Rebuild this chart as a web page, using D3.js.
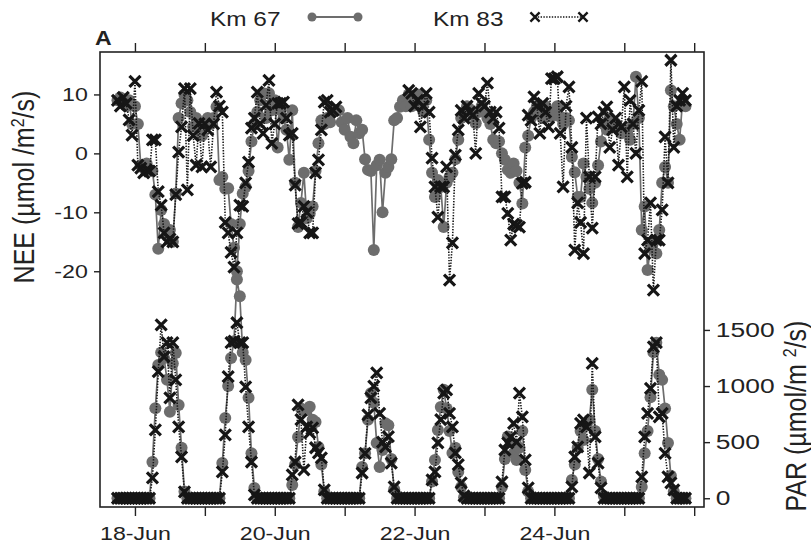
<!DOCTYPE html>
<html>
<head>
<meta charset="utf-8">
<script src="https://cdn.jsdelivr.net/npm/d3@7"></script>
<style>
  body { margin: 0; background: #fff; }
  text { font-family: "Liberation Sans", Arial, Helvetica, sans-serif; fill: #222; }
</style>
</head>
<body>
<svg id="chart" width="811" height="549"></svg>
<script>
/************** Data (hourly, starting 17 Jun 18:00) **************/
const startTime = "2004-06-17T18:00:00Z";

// NEE (umol/m2/s) at Km 67
const nee67 = [
  9, 9.5, 8.5, 8, 9, 5,                                                                           // 17 Jun 18-23h
  8, 5, -2, -2.5, -1.7, -3, -3, -7, -16.2, -9.6, -12, -14, -13, -15, -6.8, 6, 8.5, 10, 9, 7, 4.5, 6, 5, 3,      // 18 Jun
  5, 6, 5, 6, 7.9, -4.5, -4, -6, -5.9, -12, -16, -20, -12, -6.8, -5.7, -3, 2, 5, 7, 9, 10.2, 6, 10.2, 7.3,      // 19 Jun
  9, 1, 7.3, 6, 4, -1.1, 7.3, -5, -12.5, -8.4, -3.3, -11, -10.2, -9, -3, 1.7, 5.6, 5, 6, 5.3, 7, 7.3, 7.3, 5.3, // 20 Jun
  4, 6, 2.8, 1.7, 5.6, 3.4, 4, -1, -2.8, -3, -16.4, -2, -1.1, -10, -3.3, -2.3, -1, 5.6, 6, 7.9, 9, 8, 10, 8,    // 21 Jun
  9, 10, 8, 7, 9, 2.3, -3.3, -7.4, -4.5, -5.7, -12.5, -5, -4, -3.3, -1, 2.3, 6, 7, 8, 7.5, 6.5, 5.1, 7, 8,      // 22 Jun
  7, 6, 5, 2.3, 1.7, 2, 0, -1.1, -2.8, -3.3, -1.7, -3, -5, -8.5, 1, 3, 6, 7, 8, 7, 6, 8, 7, 6.2,               // 23 Jun
  7, 8, 6.2, 5, 6, 5.6, -0.6, -3.2, -7.4, -7.4, -1.7, -4, -6, -8.4, -5, -2, 2, 5, 4, 6, 5, 5.1, 4, 3.4,         // 24 Jun
  4, 3.4, 2.3, 5, 13, 6, -13, -9, -19.8, -16, -15, -17, -13, -5, -2.3, -5, 10.7, 8, 5, 2.3, 9, 8               // 25 Jun 0-21h
];

// NEE at Km 83 (null = missing)
const nee83 = [
  9, 8, 9.5, 8.5, 5.7, 3.1,
  12.2, -2, -2.5, -3.3, -2.8, -3, 2.3, 2.3, -6.5, -8.8, -13.5, -15, -14.5, -15, -7, 0.2, 4.5, 11, -6.2, 11, 3, -2, 5.1, -2.3,
  5, 4, -2.3, 5, 10.4, 8, 7, -11.7, -13.5, -16.8, -19.3, -13.5, -8.8, -9, -5, -1.5, 4.3, 6, 10.4, 5, 3.4, 8.2, 12.4, 1.7,
  5, 8.5, 8.5, 8.7, 6, 3.1, 3.4, -5.4, -11.9, -11.7, -9, -10, -13.5, -13.5, -3.3, -1.1, 4, 8.7, 9, 7, 7.3, 7.9, null, null,
  null, null, null, null, null, null, null, null, null, null, null, null, null, null, null, null, null, null, null, null, null, null, 10.7, 10.2,
  8, 9, 4.5, 8, 10.2, 7, -0.8, -5.7, -10.8, -5.7, -5.7, -2.3, -21.5, -15.2, -0.3, 4, 7.3, 6, 8, 7, 6.5, 0, 10.2, 8.5,
  8, 11.9, 7, 6, 7, 4.3, -7.4, -7.4, -10.2, -14.7, -12, -12.2, -12.5, -5.1, -4.9, 6.5, 5.6, 9.6, 8, 3.4, 8.5, 7, 4.5, 12.7,
  12.7, 13, 3.4, -5.7, 8, 11.3, 1, -16.4, -8.4, -11.7, -17, 6, -4, -12.7, -4, 6.2, 5, 7, 7.9, 1, 4, 6, -2, 4.5,
  11.3, -4, 9, 5, 0, 7.3, 12.2, -17, -14.7, -8.4, -23.2, -14.7, -14.7, -9.6, 2.8, -5, 15.8, 1, 8, 9, 10.2, 9
];

// PAR (umol/m2/s) at Km 67
const par67 = [
  0, 0, 0, 0, 0, 0,
  0, 0, 0, 0, 0, 0, 323, 802, 1188, 1300, 1250, 1055, 770, 1200, 1295, 832, 450, 60, 0, 0, 0, 0, 0, 0,
  0, 0, 0, 0, 0, 0, 314, 716, 1000, 1250, 1400, 1950, 1800, 1300, 1233, 895, 400, 92, 0, 0, 0, 0, 0, 0,
  0, 0, 0, 0, 0, 0, 118, 300, 546, 800, 780, 787, 815, 700, 680, 457, 300, 60, 0, 0, 0, 0, 0, 0,
  0, 0, 0, 0, 0, 0, 279, 400, 700, 936, 850, 493, 279, 430, 668, 650, 350, 80, 0, 0, 0, 0, 0, 0,
  0, 0, 0, 0, 0, 0, 150, 341, 609, 814, 966, 800, 600, 404, 450, 234, 100, 10, 0, 0, 0, 0, 0, 0,
  0, 0, 0, 0, 0, 0, 100, 350, 550, 500, 400, 341, 450, 600, 252, 60, 0, 0, 0, 0, 0, 0, 0, 0,
  0, 0, 0, 0, 0, 0, 163, 300, 450, 600, 520, 650, 700, 966, 600, 350, 150, 20, 0, 0, 0, 0, 0, 0,
  0, 0, 0, 0, 0, 0, 100, 400, 600, 900, 1300, 1386, 1100, 1055, 800, 493, 200, 60, 0, 0, 0, 0
];

// PAR at Km 83
const par83 = [
  0, 0, 0, 0, 0, 0,
  0, 0, 0, 0, 0, 0, 181, 609, 1128, 1546, 1261, 1386, 895, 1386, 1055, 636, 368, 56, 0, 0, 0, 0, 0, 0,
  0, 0, 0, 0, 0, 0, 234, 564, 1083, 1386, 1400, 1564, 1386, 1386, 993, 636, 323, 30, 0, 0, 0, 0, 0, 0,
  0, 0, 0, 0, 0, 0, 208, 323, 832, 700, 252, 636, 582, 627, 450, 404, 360, 74, 0, 0, 0, 0, 0, 0,
  0, 0, 0, 0, 0, 0, 225, 400, 742, 895, 1000, 1117, 757, 500, 457, 550, 314, 101, 0, 0, 0, 0, 0, 0,
  0, 0, 0, 0, 0, 0, 163, 234, 493, 700, 936, 966, 757, 636, 404, 300, 136, 20, 0, 0, 0, 0, 0, 0,
  0, 0, 0, 0, 0, 0, 145, 430, 493, 545, 668, 500, 936, 725, 341, 92, 0, 0, 0, 0, 0, 0, 0, 0,
  0, 0, 0, 0, 0, 0, 101, 368, 457, 668, 698, 636, 225, 1203, 546, 314, 92, 0, 0, 0, 0, 0, 0, 0,
  0, 0, 0, 0, 0, 0, 190, 546, 757, 980, 1350, 1386, 725, 757, 400, 190, 136, 74, 0, 0, 0, 0
];

const neeTicks = [10, 0, -10, -20];
const parTicks = [0, 500, 1000, 1500];
const xTickLabels = ["18-Jun", "20-Jun", "22-Jun", "24-Jun"];
const seriesNames = ["Km 67", "Km 83"];

/************** Layout **************/
const plot = { left: 100, right: 704, top: 52, bottom: 507 };
const grey = "#6d6d6d", dark = "#161616";
const stretch = 1.22;   // the reference type is set wide

const svg = d3.select("#chart");

const t0 = new Date(startTime);
const timeOf = i => d3.utcHour.offset(t0, i);

const x = d3.scaleUtc()
  .domain([new Date("2004-06-17T12:00:00Z"), new Date("2004-06-26T03:22:00Z")])
  .range([plot.left, plot.right]);
const yNee = d3.scaleLinear().domain([-60, 17.2]).range([plot.bottom, plot.top]);
const yPar = d3.scaleLinear().domain([-78, 3977]).range([plot.bottom, plot.top]);

const toPts = arr => arr.map((v, i) => ({ t: timeOf(i), v }));

/************** Axes **************/
const dayTicks = d3.utcDay.range(new Date("2004-06-18T00:00:00Z"), new Date("2004-06-26T12:00:00Z"));
const fmtDay = d => {
  const s = `${d.getUTCDate()}-Jun`;
  return xTickLabels.includes(s) ? s : "";
};
const plain = d => String(d);   // hyphen minus, no thousands comma

const styleAxis = (g) => {
  g.select(".domain").remove();
  g.selectAll(".tick line").attr("stroke", "#222").attr("stroke-width", 1.4);
  g.selectAll(".tick text").attr("fill", "#222");
};

svg.append("g")
  .attr("transform", `translate(0,${plot.bottom})`)
  .call(d3.axisBottom(x).tickValues(dayTicks).tickFormat(fmtDay).tickSize(9).tickPadding(11))
  .call(styleAxis)
  .call(g => g.selectAll(".tick text")
    .style("font-size", "19px")
    .attr("transform", `scale(${stretch},1)`));

svg.append("g")
  .attr("transform", `translate(0,${plot.top})`)
  .call(d3.axisTop(x).tickValues(dayTicks).tickFormat("").tickSize(9))
  .call(styleAxis);

svg.append("g")
  .attr("transform", `translate(${plot.left},0)`)
  .call(d3.axisLeft(yNee).tickValues(neeTicks).tickFormat(plain).tickSize(6).tickPadding(4))
  .call(styleAxis)
  .call(g => g.selectAll(".tick text")
    .style("font-size", "19px")
    .attr("transform", `scale(${stretch},1)`));

svg.append("g")
  .attr("transform", `translate(${plot.right},0)`)
  .call(d3.axisRight(yPar).tickValues(parTicks).tickFormat(plain).tickSize(6).tickPadding(3))
  .call(styleAxis)
  .call(g => g.selectAll(".tick text")
    .style("font-size", "20px")
    .attr("transform", "scale(1.32,1)"));

// frame
svg.append("rect")
  .attr("x", plot.left).attr("y", plot.top)
  .attr("width", plot.right - plot.left).attr("height", plot.bottom - plot.top)
  .attr("fill", "none").attr("stroke", "#222").attr("stroke-width", 1.6);

/************** Series **************/
const chart = svg.append("g");

const drawCircles = (pts, yScale) => {
  chart.append("path")
    .datum(pts)
    .attr("fill", "none").attr("stroke", grey).attr("stroke-width", 1.7)
    .attr("d", d3.line().defined(d => d.v !== null).x(d => x(d.t)).y(d => yScale(d.v)));
  chart.append("g").selectAll("circle")
    .data(pts.filter(d => d.v !== null))
    .join("circle")
      .attr("cx", d => x(d.t)).attr("cy", d => yScale(d.v))
      .attr("r", 6).attr("fill", grey);
};

const crossPath = "M-5.5,-5.5L5.5,5.5M-5.5,5.5L5.5,-5.5";
const drawCrosses = (pts, yScale) => {
  chart.append("path")
    .datum(pts)
    .attr("fill", "none").attr("stroke", dark).attr("stroke-width", 1.6)
    .attr("stroke-dasharray", "1.4,1.4")
    .attr("d", d3.line().defined(d => d.v !== null).x(d => x(d.t)).y(d => yScale(d.v)));
  chart.append("g").selectAll("path")
    .data(pts.filter(d => d.v !== null))
    .join("path")
      .attr("transform", d => `translate(${x(d.t)},${yScale(d.v)})`)
      .attr("d", crossPath)
      .attr("stroke", dark).attr("stroke-width", 3.2).attr("fill", "none");
};

drawCircles(toPts(par67), yPar);
drawCrosses(toPts(par83), yPar);
drawCircles(toPts(nee67), yNee);
drawCrosses(toPts(nee83), yNee);

/************** Labels & legend **************/
const neeLabel = svg.append("text")
  .attr("transform", `translate(34,187) scale(1.15,1) rotate(-90)`)
  .attr("text-anchor", "middle")
  .style("font-size", "25px");
neeLabel.append("tspan").text("NEE (\u00b5mol /m");
neeLabel.append("tspan").attr("dy", -9).style("font-size", "16px").text("2");
neeLabel.append("tspan").attr("dy", 9).text("/s)");

const parLabel = svg.append("text")
  .attr("transform", `translate(806,416) scale(1.15,1) rotate(-90)`)
  .attr("text-anchor", "middle")
  .style("font-size", "25px");
parLabel.append("tspan").text("PAR (\u00b5mol/m ");
parLabel.append("tspan").attr("dy", -9).style("font-size", "16px").text("2");
parLabel.append("tspan").attr("dy", 9).text("/s)");

svg.append("text")
  .attr("transform", "translate(95,45) scale(1.1,1)")
  .style("font-size", "21px").style("font-weight", "bold")
  .text("A");

const legend = svg.append("g");
const legendRows = [
  { name: seriesNames[0], tx: 210, x1: 312, x2: 358 },
  { name: seriesNames[1], tx: 433, x1: 535, x2: 583 }
];
legendRows.forEach((r, i) => {
  legend.append("text")
    .attr("transform", `translate(${r.tx},26) scale(${stretch},1)`)
    .style("font-size", "20px")
    .text(r.name);
  legend.append("line")
    .attr("x1", r.x1).attr("x2", r.x2).attr("y1", 17).attr("y2", 17)
    .attr("stroke", i === 0 ? grey : dark).attr("stroke-width", i === 0 ? 2.2 : 1.5)
    .attr("stroke-dasharray", i === 0 ? null : "1.4,1.4");
  [r.x1, r.x2].forEach(px => {
    if (i === 0) {
      legend.append("circle").attr("cx", px).attr("cy", 17).attr("r", 4.5).attr("fill", grey);
    } else {
      legend.append("path").attr("transform", `translate(${px},17)`)
        .attr("d", "M-4.6,-4.6L4.6,4.6M-4.6,4.6L4.6,-4.6").attr("stroke", dark).attr("stroke-width", 2.4);
    }
  });
});
</script>
</body>
</html>
